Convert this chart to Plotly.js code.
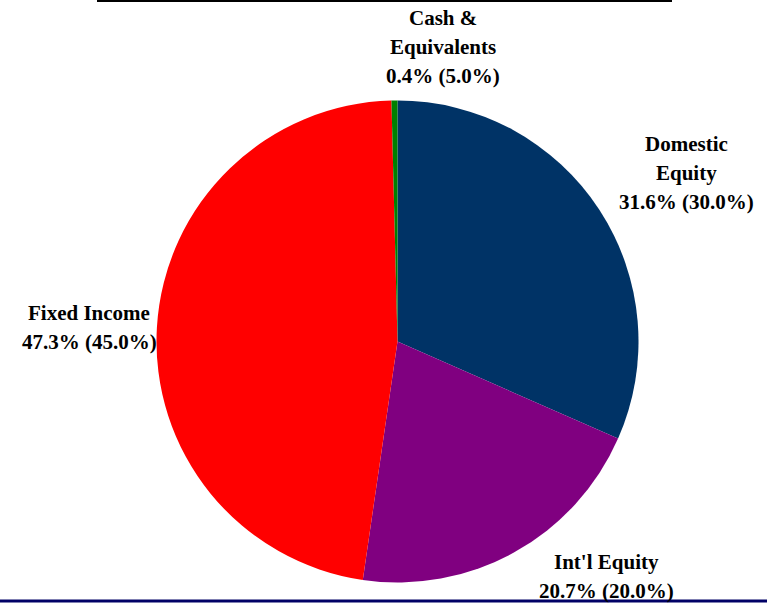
<!DOCTYPE html>
<html>
<head>
<meta charset="utf-8">
<script src="https://cdn.plot.ly/plotly-3.0.1.min.js"></script>
<style>html,body{margin:0;padding:0;background:#fff;}#chart{width:767px;height:603px;}</style>
</head>
<body>
<div id="chart"></div>
<script>
const categories = ["Domestic Equity", "Int'l Equity", "Fixed Income", "Cash & Equivalents"];
const labelLines = [["Domestic", "Equity"], ["Int'l Equity"], ["Fixed Income"], ["Cash &", "Equivalents"]];
const actualPct = [31.6, 20.7, 47.3, 0.4];
const targetPct = [30.0, 20.0, 45.0, 5.0];
const sliceColors = ["#003366", "#800080", "#FF0000", "#008000"];

const W = 767, H = 603;
// label placement (pixel centre x, first-line centre y)
const labelPos = [[686, 144], [606, 562], [89, 313], [443, 18]];
const lineGap = 29;

const annotations = [];
categories.forEach((c, i) => {
  const lines = labelLines[i].concat([actualPct[i].toFixed(1) + "% (" + targetPct[i].toFixed(1) + "%)"]);
  lines.forEach((t, k) => {
    annotations.push({
      text: t, xref: "paper", yref: "paper",
      x: labelPos[i][0] / W, y: 1 - (labelPos[i][1] + k * lineGap) / H,
      xanchor: "center", yanchor: "middle", showarrow: false,
      font: {family: "Liberation Serif, serif", size: 21, color: "#000", weight: "bold"}
    });
  });
});

const data = [{
  type: "pie",
  labels: categories,
  values: actualPct,
  sort: false,
  direction: "clockwise",
  rotation: 0,
  marker: {colors: sliceColors, line: {width: 0}},
  textinfo: "none",
  hoverinfo: "label+percent",
  showlegend: false,
  domain: {x: [156.5 / W, 638.5 / W], y: [1 - 582.5 / H, 1 - 100.5 / H]}
}];

const layout = {
  width: W, height: H,
  margin: {l: 0, r: 0, t: 0, b: 0},
  paper_bgcolor: "#fff",
  showlegend: false,
  annotations: annotations,
  shapes: [
    {type: "line", xref: "paper", yref: "paper", x0: 97 / W, x1: 672 / W, y0: 1 - 1 / H, y1: 1 - 1 / H, line: {color: "#000", width: 2}},
    {type: "line", xref: "paper", yref: "paper", x0: 0, x1: 1, y0: 1 - 601 / H, y1: 1 - 601 / H, line: {color: "#000066", width: 3}, layer: "below"}
  ]
};

Plotly.newPlot("chart", data, layout, {displayModeBar: false, staticPlot: true});
</script>
</body>
</html>
